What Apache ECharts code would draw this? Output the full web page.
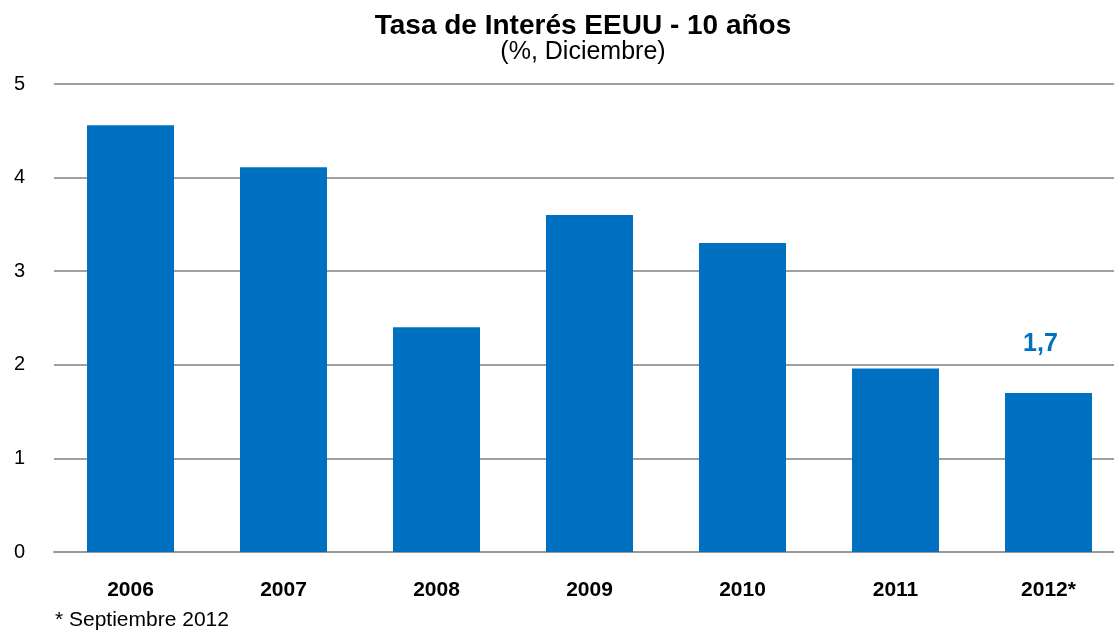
<!DOCTYPE html>
<html>
<head>
<meta charset="utf-8">
<script src="https://cdn.jsdelivr.net/npm/echarts@6/dist/echarts.min.js"></script>
<style>
  html, body { margin: 0; padding: 0; background: #fff; }
  #main { width: 1114px; height: 633px; }
</style>
</head>
<body>
<div id="main"></div>
<script>
const years = ['2006', '2007', '2008', '2009', '2010', '2011', '2012*'];
const rates = [4.56, 4.11, 2.40, 3.60, 3.30, 1.96, 1.70];
const yTicks = [0, 1, 2, 3, 4, 5];

const myChart = echarts.init(document.getElementById('main'));
const font = 'Liberation Sans, Arial, sans-serif';

const option = {
  animation: false,
  title: {
    text: 'Tasa de Interés EEUU - 10 años',
    subtext: '(%, Diciembre)',
    left: 583,
    textAlign: 'center',
    top: 12,
    padding: 0,
    itemGap: 0,
    textStyle: { fontFamily: font, fontSize: 28, fontWeight: 'bold', color: '#000' },
    subtextStyle: { fontFamily: font, fontSize: 25, color: '#000' }
  },
  grid: { left: 54, top: 84, width: 1071, height: 468, outerBoundsMode: 'none' },
  xAxis: {
    type: 'category',
    data: years,
    axisTick: { show: false },
    axisLine: { lineStyle: { color: '#999', width: 2 } },
    axisLabel: { margin: 28, fontFamily: font, fontSize: 21, fontWeight: 'bold', color: '#000' }
  },
  yAxis: {
    type: 'value',
    min: yTicks[0],
    max: yTicks[yTicks.length - 1],
    interval: 1,
    axisLine: { show: false },
    axisTick: { show: false },
    splitLine: { lineStyle: { color: '#a0a0a0', width: 2 } },
    axisLabel: { margin: 29, fontFamily: font, fontSize: 20, color: '#000' }
  },
  series: [
    {
      type: 'bar',
      data: rates.map((v, i) => ({
        value: v,
        label: {
          show: i === rates.length - 1,
          position: 'top',
          distance: 36,
          offset: [-8, 0],
          formatter: (p) => String(p.value).replace('.', ','),
          fontFamily: font,
          fontSize: 25,
          fontWeight: 'bold',
          color: '#0070C0'
        }
      })),
      barWidth: 87,
      itemStyle: { color: '#0070C0' }
    }
  ],
  graphic: [
    {
      type: 'text',
      left: 55,
      top: 610,
      style: { text: '* Septiembre 2012', font: '21px ' + font, fill: '#000' }
    }
  ]
};

myChart.setOption(option);
</script>
</body>
</html>
